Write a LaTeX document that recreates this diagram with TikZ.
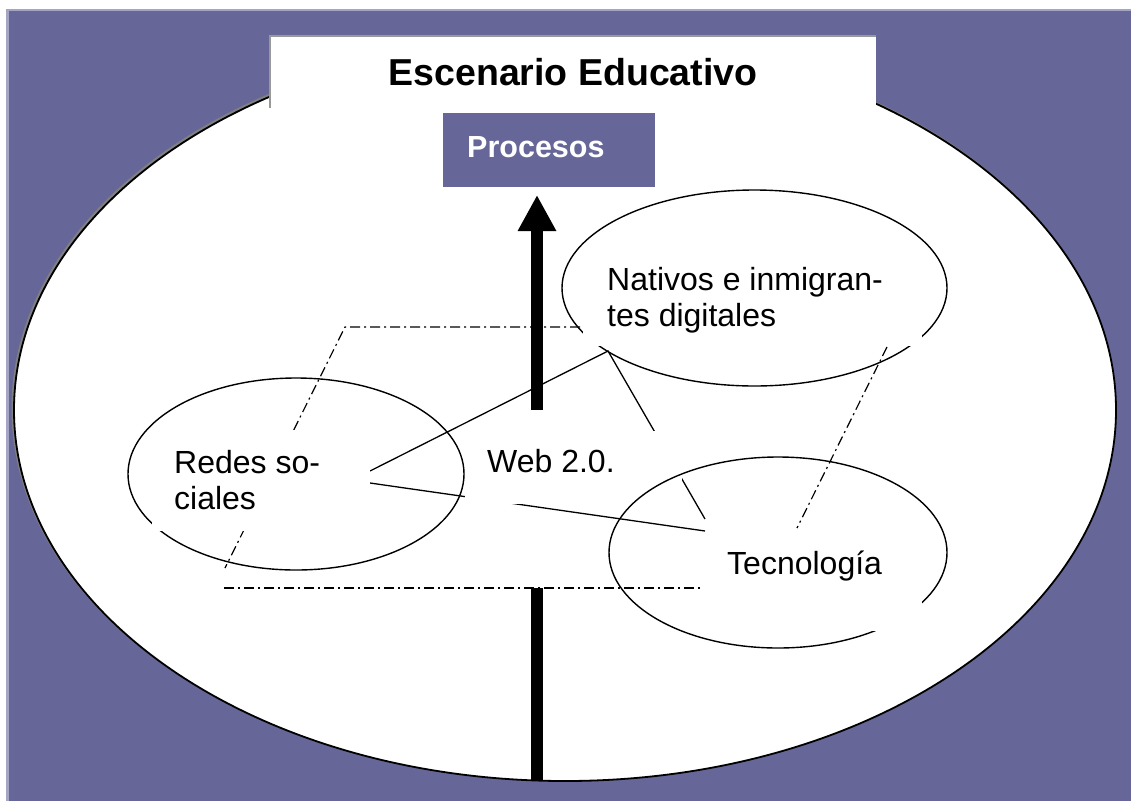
\documentclass[tikz,border=0pt]{standalone}
\usepackage{fontspec}
\setmainfont{Liberation Sans}
\usetikzlibrary{shapes.geometric,arrows.meta}
\definecolor{frame}{HTML}{666699}
\definecolor{framelight}{HTML}{A4A4C4}
\definecolor{boxgray}{HTML}{999999}
\begin{document}
\begin{tikzpicture}[x=1pt,y=-1pt,
  oval/.style={draw=black,line width=1.4pt,ellipse,inner sep=0pt},
  mask/.style={fill=white,draw=none},
  lbl/.style={font=\fontsize{32}{36}\selectfont,inner sep=0pt,anchor=base west,align=left},
  link/.style={line width=1.3pt},
  dashdot/.style={line width=1.2pt,dash pattern=on 10pt off 4pt on 2pt off 4pt},
  bigarrow/.style={line width=12pt}]
% background frame
\useasboundingbox (0,0) rectangle (1131,801);
\fill[white] (0,0) rectangle (1131,801);
\fill[framelight] (6,9) rectangle (1131,801);
\fill[frame] (8.5,11) rectangle (1131,801);
% scene ellipse with shadow
\node[ellipse,draw=gray,line width=2pt,minimum width=1102pt,minimum height=742pt,inner sep=0pt] (sceneshadow) at (563.5,408.5) {};
\node[ellipse,draw=black,fill=white,line width=1.8pt,minimum width=1102pt,minimum height=742pt,inner sep=0pt] (scene) at (565,410) {};
% title box
\node[fill=white,minimum width=606pt,minimum height=72pt,inner sep=0pt,font=\bfseries\fontsize{37.5}{40}\selectfont] (title) at (573,72) {Escenario Educativo};
\draw[boxgray,line width=2pt] (title.south west) -- (title.north west) -- (title.north east);
% procesos box
\node[fill=frame,minimum width=212pt,minimum height=74pt,inner sep=0pt] (proc) at (549,150) {};
\node[font=\bfseries\fontsize{30.5}{34}\selectfont,text=white,inner sep=0pt,anchor=base west] (proclbl) at (467,157) {Procesos};
% arrows
\coordinate (upfoot) at (537,410);
\coordinate (uptip) at (537,195);
\draw[bigarrow,-{Triangle[length=36pt,width=36pt]}] (upfoot) -- (uptip);
\coordinate (lowfoot) at (537,781);
\coordinate (lowtop) at (537,588);
\draw[bigarrow] (lowfoot) -- (lowtop);
% dash-dot frame
\coordinate (dd1) at (580,327);
\coordinate (dd2) at (345,327);
\coordinate (dd3) at (225,568);
\coordinate (dd4) at (224,588);
\coordinate (dd5) at (702,588);
\coordinate (dd6) at (887,347);
\coordinate (dd7) at (797,528);
\draw[dashdot] (dd1) -- (dd2) -- (dd3);
\draw[dashdot] (dd4) -- (dd5);
\draw[dashdot] (dd6) -- (dd7);
% connectors
\coordinate (r1) at (370,471);
\coordinate (n1) at (608,351);
\coordinate (t1) at (705,519);
\coordinate (r2) at (370,483);
\coordinate (t2) at (705,531);
\draw[link] (r1) -- (n1) -- (t1);
\draw[link] (r2) -- (t2);
% ellipses
\node[oval,minimum width=336pt,minimum height=192pt] (redesoval) at (296,474) {};
\node[oval,minimum width=385pt,minimum height=196pt] (natoval) at (754.5,288) {};
\fill[mask] (465,431) rectangle (682,504);
\node[oval,minimum width=338pt,minimum height=191pt] (tecoval) at (778,552.5) {};
\fill[mask] (152,430) rectangle (370,531);
\fill[mask] (583,250) rectangle (922,346);
\fill[mask] (706,529) rectangle (922,631);
% labels
\node[lbl] (redes) at (174,509) {Redes so-\\ciales};
\node[lbl] (web) at (487,472) {Web 2.0.};
\node[lbl] (nativos) at (607,326) {Nativos e inmigran-\\tes digitales};
\node[lbl] (tec) at (727,574) {Tecnología};
\end{tikzpicture}
\end{document}
